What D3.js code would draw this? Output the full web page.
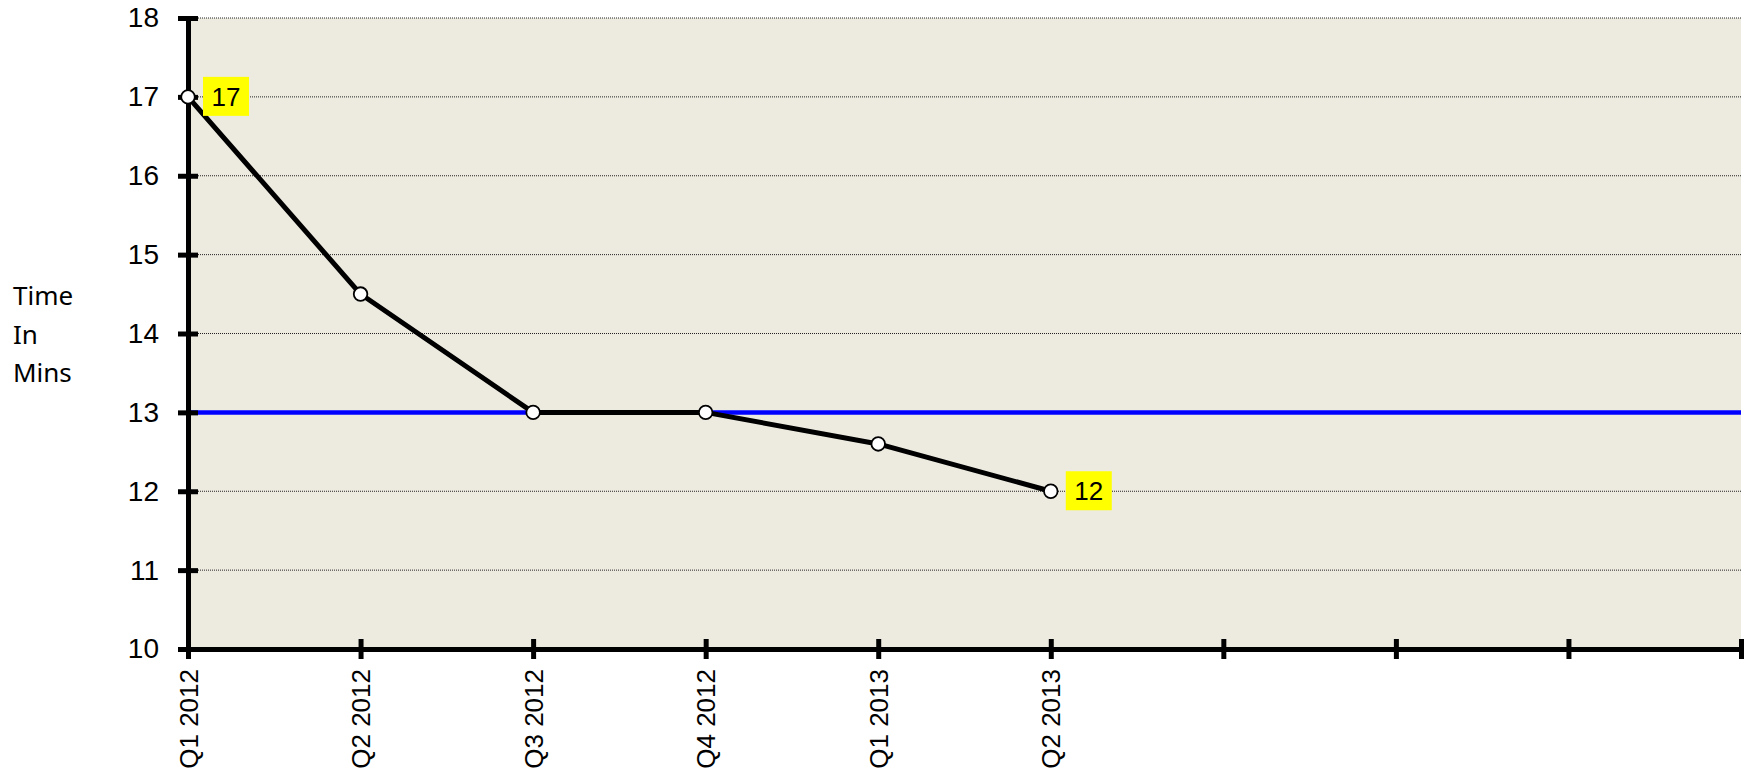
<!DOCTYPE html>
<html lang="en">
<head>
  <meta charset="utf-8"/>
  <title>Time In Mins</title>
  <script src="https://d3js.org/d3.v7.min.js"></script>
  <style>
    body { margin: 0; background: #fff; }
    svg text { font-family: "Liberation Sans", Arial, sans-serif; fill: #000; }
  </style>
</head>
<body>
<svg id="chart" width="1750" height="772"></svg>
<script>
  // quarters, the axis keeps 10 slots (last 4 empty)
  const categories = ["Q1 2012", "Q2 2012", "Q3 2012", "Q4 2012", "Q1 2013", "Q2 2013"];
  const slots = 10;
  const times = [17, 14.5, 13, 13, 12.6, 12];
  const target = 13;
  const yTicks = [10, 11, 12, 13, 14, 15, 16, 17, 18];
  const labelled = [0, 5]; // points that get a yellow value box

  const svg = d3.select("#chart");
  const pLeft = 188, pRight = 1741, pTop = 18, pBottom = 649;

  const x = d3.scaleLinear().domain([0, slots - 1]).range([pLeft, pRight]);
  const y = d3.scaleLinear().domain([10, 18]).range([pBottom, pTop]);

  // plot area
  svg.append("rect")
    .attr("x", pLeft).attr("y", pTop)
    .attr("width", pRight - pLeft).attr("height", pBottom - pTop)
    .attr("fill", "#edebe0");

  // dotted gridlines
  svg.append("g").selectAll("line")
    .data(yTicks.filter(d => d > 10))
    .join("line")
    .attr("x1", pLeft).attr("x2", pRight)
    .attr("y1", d => y(d)).attr("y2", d => y(d))
    .attr("stroke", "#222").attr("stroke-width", 1)
    .attr("stroke-dasharray", "1,1");

  // target line
  svg.append("line")
    .attr("x1", pLeft).attr("x2", pRight)
    .attr("y1", y(target)).attr("y2", y(target))
    .attr("stroke", "#0000ff").attr("stroke-width", 4.5);

  // y axis
  const yAxis = svg.append("g")
    .attr("transform", `translate(${pLeft},0)`)
    .call(d3.axisLeft(y).tickValues(yTicks).tickSize(10).tickPadding(20));
  yAxis.select(".domain").attr("stroke", "#000").attr("stroke-width", 5);
  yAxis.selectAll(".tick line").attr("x1", -10).attr("x2", 10)
    .attr("stroke", "#000").attr("stroke-width", 5);
  yAxis.selectAll(".tick text").attr("font-size", 28).attr("x", -29)
    .attr("font-family", "Liberation Sans, Arial, sans-serif");

  // x axis
  const xAxis = svg.append("g")
    .attr("transform", `translate(0,${pBottom})`)
    .call(d3.axisBottom(x).tickValues(d3.range(slots))
      .tickFormat(i => categories[i] || "").tickSizeOuter(0).tickSize(10));
  xAxis.select(".domain").attr("stroke", "#000").attr("stroke-width", 5);
  xAxis.selectAll(".tick line").attr("y1", -10).attr("y2", 10)
    .attr("stroke", "#000").attr("stroke-width", 5);
  xAxis.selectAll(".tick text")
    .attr("font-size", 26)
    .attr("font-family", "Liberation Sans, Arial, sans-serif")
    .attr("text-anchor", "end")
    .attr("transform", "rotate(-90)")
    .attr("x", -20).attr("y", 0).attr("dy", "0.35em");

  // series line
  const line = d3.line().x((d, i) => x(i)).y(d => y(d));
  svg.append("path")
    .datum(times)
    .attr("d", line)
    .attr("fill", "none")
    .attr("stroke", "#000").attr("stroke-width", 5)
    .attr("stroke-linejoin", "round");

  svg.append("g").selectAll("circle")
    .data(times)
    .join("circle")
    .attr("cx", (d, i) => x(i)).attr("cy", d => y(d))
    .attr("r", 6.8)
    .attr("fill", "#fff").attr("stroke", "#000").attr("stroke-width", 1.8);

  // value labels
  const lab = svg.append("g").selectAll("g")
    .data(labelled)
    .join("g")
    .attr("transform", i => `translate(${x(i) + 15},${y(times[i])})`);
  lab.append("rect")
    .attr("x", 0).attr("y", -20).attr("width", 46).attr("height", 39)
    .attr("fill", "#ffff00");
  lab.append("text")
    .attr("x", 23).attr("y", 0).attr("dy", "0.35em")
    .attr("text-anchor", "middle").attr("font-size", 26)
    .text(i => times[i]);

  // y title
  svg.append("text")
    .attr("x", 13).attr("y", 305)
    .style("font-family", "'Noto Sans', 'Open Sans', sans-serif")
    .attr("font-size", 26)
    .selectAll("tspan")
    .data(["Time", "In", "Mins"])
    .join("tspan")
    .attr("x", 13)
    .attr("dy", (d, i) => i ? 38.5 : 0)
    .text(d => d);
</script>
</body>
</html>
